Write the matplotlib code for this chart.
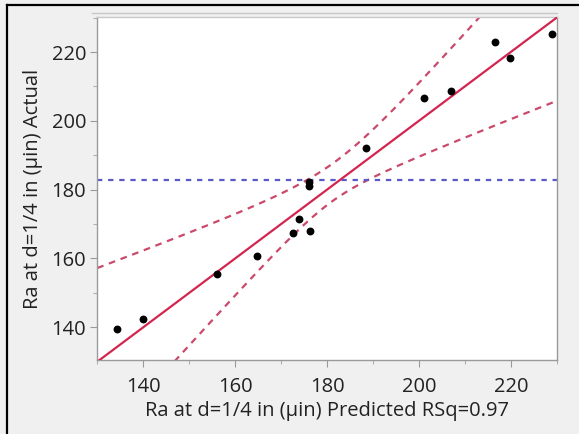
import numpy as np
import matplotlib
matplotlib.use("Agg")
import matplotlib.pyplot as plt
from matplotlib.ticker import MultipleLocator
from matplotlib.lines import Line2D

# ---- data ----
predicted = [134.3, 139.9, 156.1, 164.8, 172.5, 173.9, 176.3, 176.1, 176.1,
             188.4, 201.1, 206.9, 216.6, 219.8, 229.0]
actual = [139.4, 142.3, 155.5, 160.7, 167.3, 171.6, 168.0, 182.2, 181.2,
          192.2, 206.6, 208.7, 223.0, 218.4, 225.1]

# points
upper_x = [130.0, 157.8, 161.9, 174.8, 185.0, 191.5, 199.5, 212.2]
upper_y = [157.2, 171.9, 174.0, 182.3, 190.8, 198.9, 210.9, 228.6]
lower_x = [147.7, 161.9, 166.5, 177.0, 186.5, 198.8, 217.7, 229.3]
lower_y = [131.4, 152.0, 158.2, 172.1, 182.2, 188.9, 198.9, 205.6]

x_label = "Ra at d=1/4 in (\u00b5in) Predicted RSq=0.97"
y_label = "Ra at d=1/4 in (\u00b5in) Actual"
xticks = [140, 160, 180, 200, 220]
yticks = [140, 160, 180, 200, 220]

plt.rcParams['font.family'] = ['Open Sans', 'DejaVu Sans']

fig = plt.figure(figsize=(5.79, 4.34), dpi=100)
fig.patch.set_facecolor('#f0f0f0')

ax = fig.add_axes([0.168, 0.1705, 0.7935, 0.7905])
ax.set_facecolor('white')
xlim = (130, 230)
ylim = (130.5, 230.2)

# confidence curves: fit h^2 (distance from fit line) by quadratic through read points
xx = np.linspace(xlim[0], xlim[1], 400)
ux = np.array(upper_x); uh = np.array(upper_y) - ux
lx = np.array(lower_x); lh = lx - np.array(lower_y)
cu = np.polyfit(ux, uh ** 2, 2)
cl = np.polyfit(lx, lh ** 2, 2)
yu = xx + np.sqrt(np.clip(np.polyval(cu, xx), 0, None))
yl = xx - np.sqrt(np.clip(np.polyval(cl, xx), 0, None))

dash_col = '#c94a6a'
ax.plot(xx, yu, color=dash_col, lw=1.6, dashes=(3, 2.6), zorder=2)
ax.plot(xx, yl, color=dash_col, lw=1.6, dashes=(3, 2.6), zorder=2)

# mean line
ax.axhline(np.mean(actual), color='#5b5bc8', lw=1.6, dashes=(2.4, 2.6), zorder=2)

# fit line y = x
ax.plot(xlim, xlim, color='#d2264f', lw=1.6, zorder=3)

ax.scatter(predicted, actual, s=32, color='black', zorder=4, linewidths=0)

ax.set_xlim(*xlim)
ax.set_ylim(*ylim)
ax.set_xticks(xticks)
ax.set_yticks(yticks)
ax.xaxis.set_minor_locator(MultipleLocator(10))
ax.yaxis.set_minor_locator(MultipleLocator(10))
ax.tick_params(which='major', length=5, width=0.8, color='#9a9a9a',
               labelsize=14.5, labelcolor='#222222')
ax.tick_params(axis='x', which='major', pad=7)
ax.tick_params(axis='y', which='major', pad=3)
ax.tick_params(which='minor', length=3, width=0.8, color='#b0b0b0')
for s in ax.spines.values():
    s.set_color('#9a9a9a')
    s.set_linewidth(1.0)
ax.spines['top'].set_color('#c8c8c8')

ax.set_xlabel(x_label, fontsize=14.5, color='#222222', labelpad=3)
ax.set_ylabel(y_label, fontsize=14.5, color='#222222', labelpad=6)

# outer frame lines (left and top)
fig.add_artist(Line2D([6.5 / 579, 6.5 / 579], [0, 1 - 5 / 434], color='black', lw=1.6,
                      transform=fig.transFigure))
fig.add_artist(Line2D([6.5 / 579, 1], [1 - 5 / 434, 1 - 5 / 434], color='black', lw=1.6,
                      transform=fig.transFigure))
# light double line above plot
fig.add_artist(Line2D([92 / 579, 557 / 579], [1 - 13 / 434, 1 - 13 / 434], color='#c8c8c8', lw=1.0,
                      transform=fig.transFigure))

fig.savefig('out.png', dpi=100, facecolor=fig.get_facecolor())
